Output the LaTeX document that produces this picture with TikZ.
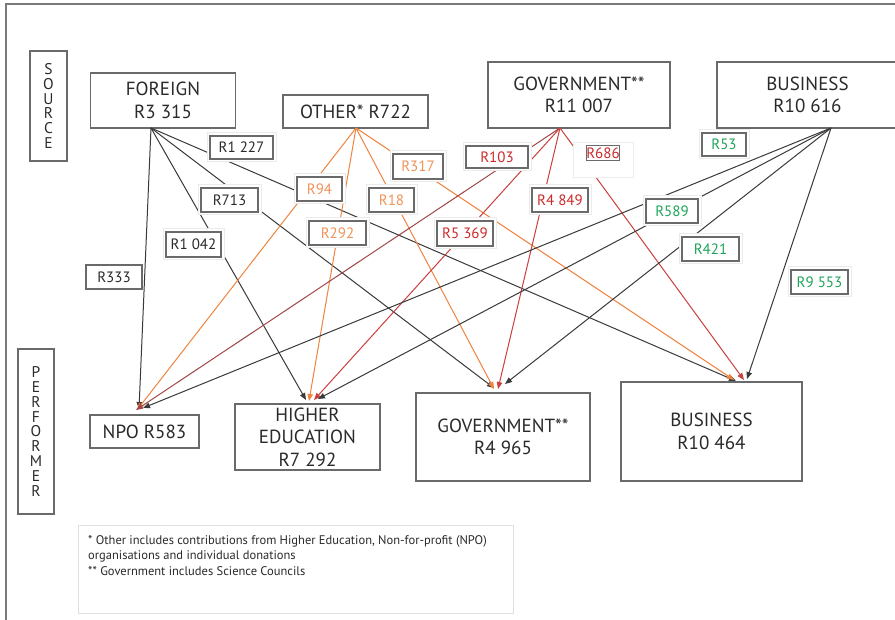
\documentclass[tikz,border=0pt]{standalone}
\usepackage{fontspec}
\setmainfont{PT Sans}
\usetikzlibrary{arrows.meta}
\definecolor{boxc}{HTML}{6A6A6A}
\definecolor{framec}{HTML}{7A7A7A}
\definecolor{txt}{HTML}{2A2A2A}
\definecolor{ln}{HTML}{3A3A3A}
\definecolor{org}{HTML}{EE8440}
\definecolor{orgt}{HTML}{F0935A}
\definecolor{rd}{HTML}{C9403E}
\definecolor{brn}{HTML}{A04646}
\definecolor{rdt}{HTML}{CC2A2A}
\definecolor{grn}{HTML}{1FA45A}
\begin{document}
\begin{tikzpicture}[x=1pt,y=-1pt,
  box/.style={draw=boxc, line width=1.3pt, fill=white, align=center, inner sep=0pt,
    text=txt, font=\fontsize{19}{22.5}\selectfont},
  side/.style={draw=boxc, line width=1.3pt, align=center, inner sep=0pt,
    text=txt, font=\fontsize{15.5}{14.8}\selectfont},
  lblplain/.style={draw=boxc, line width=1.2pt, fill=white, inner sep=0pt,
    text=txt, font=\fontsize{15}{16}\selectfont},
  lbl/.style={lblplain, preaction={draw=black!8, line width=7pt},
    preaction={draw=white, line width=5pt}},
  flow/.style={line width=1pt, -{Triangle[length=7pt,width=5.5pt]}},
]
\useasboundingbox (0,0) rectangle (895,620);
\fill[white] (0,0) rectangle (895,620);
\draw[framec, line width=1.3pt] (6,620) -- (6,4) -- (895,4);

% side headings
\node[side, minimum width=37pt, minimum height=110pt] (src) at (48.5,106) {S\\O\\U\\R\\C\\E};
\node[side, minimum width=36pt, minimum height=165pt] (perf) at (36,431.5) {P\\E\\R\\F\\O\\R\\M\\E\\R};

% sources
\node[box, minimum width=145pt, minimum height=55pt] (fs) at (163,100.5) {FOREIGN\\R3 315};
\node[box, minimum width=145pt, minimum height=33pt] (os) at (355.5,111.5) {OTHER* R722};
\node[box, minimum width=182pt, minimum height=66pt] (gs) at (579,95) {GOVERNMENT**\\R11 007};
\node[box, minimum width=181pt, minimum height=66pt] (bs) at (807.5,95) {BUSINESS\\R10 616};

% performers
\node[box, minimum width=109pt, minimum height=33pt] (np) at (144.5,431.5) {NPO R583};
\node[box, minimum width=145pt, minimum height=66pt] (he) at (307.5,437) {HIGHER\\EDUCATION\\R7 292};
\node[box, minimum width=174pt, minimum height=88pt] (gp) at (503,437) {GOVERNMENT**\\R4 965};
\node[box, minimum width=181pt, minimum height=99pt] (bp) at (711.5,431.5) {BUSINESS\\R10 464};

% connector ends
\coordinate (fsO) at (151,128);
\coordinate (osO) at (356,128);
\coordinate (gsO) at (560,128);
\coordinate (bsO) at (831,128);
\coordinate (np1) at (139,409);
\coordinate (np2) at (137,410);
\coordinate (np3) at (136,410);
\coordinate (np4) at (143,408);
\coordinate (he1) at (306,400);
\coordinate (he2) at (309,401);
\coordinate (he3) at (314,400);
\coordinate (he4) at (318,399);
\coordinate (gp1) at (494,388);
\coordinate (gp2) at (494,389);
\coordinate (gp3) at (498,389);
\coordinate (gp4) at (505,384);
\coordinate (bp1) at (736,381);
\coordinate (bp2) at (734,380);
\coordinate (bp3) at (744,380);
\coordinate (bp4) at (747,379);

% flows from foreign
\draw[flow, ln] (fsO) -- (np1);
\draw[flow, ln] (fsO) -- (he1);
\draw[flow, ln] (fsO) -- (gp1);
\draw[flow, ln] (fsO) -- (bp1);
% flows from other
\draw[flow, org] (osO) -- (np2);
\draw[flow, org] (osO) -- (he2);
\draw[flow, org] (osO) -- (gp2);
\draw[flow, org] (osO) -- (bp2);
% flows from government
\draw[flow, brn] (gsO) -- (np3);
\draw[flow, rd] (gsO) -- (he3);
\draw[flow, rd] (gsO) -- (gp3);
\draw[flow, rd] (gsO) -- (bp3);
% flows from business
\draw[flow, ln] (bsO) -- (np4);
\draw[flow, ln] (bsO) -- (he4);
\draw[flow, ln] (bsO) -- (gp4);
\draw[flow, ln] (bsO) -- (bp4);

% labels: foreign
\node[lblplain, minimum width=56pt, minimum height=24pt] (l333) at (114,277) {R333};
\node[lbl, minimum width=55pt, minimum height=25pt] (l1042) at (193.5,244.5) {R1 042};
\node[lbl, minimum width=57pt, minimum height=24pt] (l713) at (229.5,200) {R713};
\node[lbl, minimum width=63pt, minimum height=23pt] (l1227) at (241.5,147.5) {R1 227};
% labels: other
\node[lbl, text=orgt, minimum width=45pt, minimum height=24pt] (l94) at (319.5,189) {R94};
\node[lbl, text=orgt, minimum width=57pt, minimum height=24pt] (l292) at (337.5,233) {R292};
\node[lbl, text=orgt, minimum width=45pt, minimum height=24pt] (l18) at (391.5,200) {R18};
\node[lbl, text=orgt, minimum width=50pt, minimum height=25pt] (l317) at (418,166.5) {R317};
% labels: government
\node[lbl, text=rdt, minimum width=62pt, minimum height=22pt] (l103) at (497,157) {R103};
\node[lbl, text=rdt, minimum width=56pt, minimum height=25pt] (l5369) at (465,233.5) {R5 369};
\node[lbl, text=rdt, minimum width=56pt, minimum height=24pt] (l4849) at (560,200) {R4 849};
\node[draw=black!7, line width=0.8pt, fill=white, minimum width=60pt, minimum height=35pt, inner sep=0pt] (l686h) at (603,159.5) {};
\node[draw=boxc, line width=1pt, fill=white, inner sep=0pt, text=rdt,
  font=\fontsize{15}{16}\selectfont, minimum width=30pt, minimum height=15pt] (l686) at (603,153.5) {R686};
% labels: business
\node[lbl, text=grn, minimum width=44pt, minimum height=23pt] (l53) at (724,144.5) {R53};
\node[lbl, text=grn, minimum width=52pt, minimum height=24pt] (l589) at (672,211) {R589};
\node[lbl, text=grn, minimum width=57pt, minimum height=24pt] (l421) at (710.5,249) {R421};
\node[lbl, text=grn, minimum width=57pt, minimum height=24pt] (l9553) at (819.5,282) {R9 553};

% footnote
\node[draw=black!12, line width=0.8pt, minimum width=435pt, minimum height=88pt, inner sep=0pt] (fn) at (295.5,569) {};
\node[anchor=north west, inner sep=0pt, align=left, text=txt,
  font=\fontsize{12.5}{15.5}\selectfont] (fnt) at (88,535)
  {* Other includes contributions from Higher Education, Non-for-profit (NPO)\\
   organisations and individual donations\\
   ** Government includes Science Councils};
\end{tikzpicture}
\end{document}
